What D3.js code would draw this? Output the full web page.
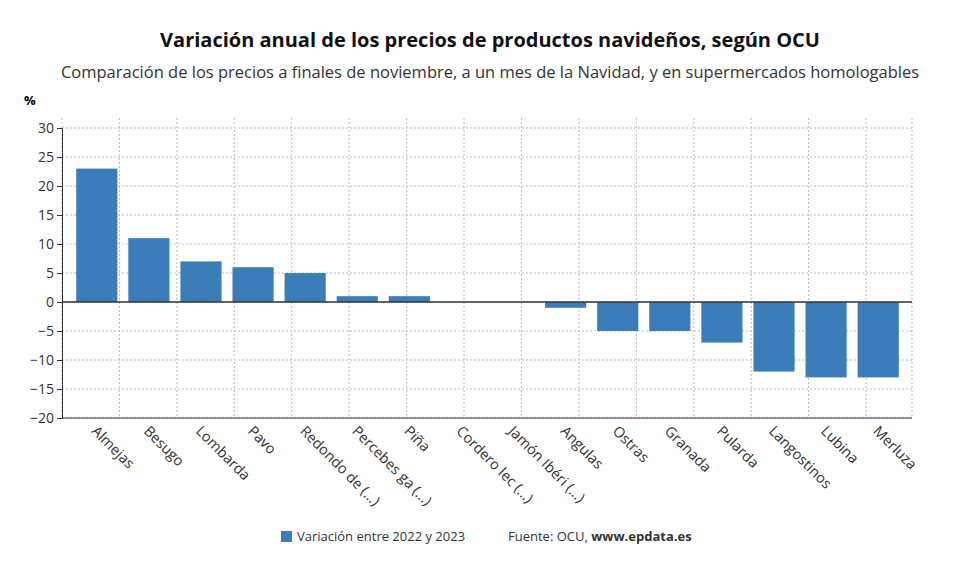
<!DOCTYPE html>
<html><head><meta charset="utf-8">
<script src="https://cdn.jsdelivr.net/npm/d3@7"></script>
<style>body{margin:0;background:#fff;font-family:"Open Sans","Noto Sans",sans-serif}</style>
</head><body><svg id="chart" width="980" height="575"></svg>
<script>
const products = ['Almejas','Besugo','Lombarda','Pavo','Redondo de (...)','Percebes ga (...)','Piña','Cordero lec (...)','Jamón Ibéri (...)','Angulas','Ostras','Granada','Pularda','Langostinos','Lubina','Merluza'];
const variation = [23,11,7,6,5,1,1,0,0,-1,-5,-5,-7,-12,-13,-13];
const yTicks = [30,25,20,15,10,5,0,-5,-10,-15,-20];

const svg = d3.select('#chart');
const L = 62, R = 912, T = 118, B = 418;
const y = d3.scaleLinear().domain([-20, 30]).range([418, 128]);
const x = d3.scaleBand().domain(products).range([71, 904]).paddingInner(0.21).paddingOuter(0.1);
const gx = d3.scaleLinear().domain([0, 14.8]).range([L, R]);

svg.append('text').attr('x', 490).attr('y', 47).attr('text-anchor', 'middle')
  .attr('font-size', 20).attr('font-weight', 'bold').attr('fill', '#111')
  .text('Variación anual de los precios de productos navideños, según OCU');
svg.append('text').attr('x', 490).attr('y', 78).attr('text-anchor', 'middle')
  .attr('font-size', 16.5).attr('fill', '#333')
  .text('Comparación de los precios a finales de noviembre, a un mes de la Navidad, y en supermercados homologables');
svg.append('text').attr('x', 24).attr('y', 105).attr('font-size', 13).attr('font-weight', 'bold').text('%');

const grid = svg.append('g').attr('stroke', '#bbb').attr('stroke-dasharray', '2,2');
yTicks.forEach(t => grid.append('line').attr('x1', L).attr('x2', R).attr('y1', y(t)).attr('y2', y(t)));
d3.range(0, 15).forEach(i => grid.append('line').attr('x1', gx(i)).attr('x2', gx(i)).attr('y1', T).attr('y2', B));
grid.append('line').attr('x1', R).attr('x2', R).attr('y1', T).attr('y2', B);

svg.append('g').attr('transform', `translate(${L},0)`)
  .call(d3.axisLeft(y).tickValues(yTicks).tickSize(5))
  .call(g => g.selectAll('text').attr('font-size', 14).attr('fill', '#333').attr('font-family', '"Open Sans",sans-serif'))
  .call(g => g.selectAll('line,path').attr('stroke', '#333'));

svg.append('g').selectAll('rect').data(variation).join('rect')
  .attr('x', (d, i) => x(products[i])).attr('width', x.bandwidth())
  .attr('y', d => y(Math.max(0, d))).attr('height', d => Math.abs(y(d) - y(0)))
  .attr('fill', '#3a7db8');

svg.append('line').attr('x1', L).attr('x2', R).attr('y1', y(0)).attr('y2', y(0)).attr('stroke', '#333').attr('stroke-width', 1.3);
svg.append('line').attr('x1', L).attr('x2', R).attr('y1', B).attr('y2', B).attr('stroke', '#333');

svg.append('g').selectAll('text').data(products).join('text')
  .attr('transform', d => `translate(${x(d) + x.bandwidth() / 2 - 6},${B + 14}) rotate(45)`)
  .attr('font-size', 14.5).attr('fill', '#333').text(d => d);

svg.append('rect').attr('x', 281).attr('y', 531).attr('width', 11).attr('height', 11).attr('fill', '#3a7db8');
svg.append('text').attr('x', 297).attr('y', 541).attr('font-size', 13).attr('fill', '#333').text('Variación entre 2022 y 2023');
const src = svg.append('text').attr('x', 508).attr('y', 541).attr('font-size', 13).attr('fill', '#333');
src.append('tspan').text('Fuente: OCU, ');
src.append('tspan').attr('font-weight', 'bold').text('www.epdata.es');
</script></body></html>
